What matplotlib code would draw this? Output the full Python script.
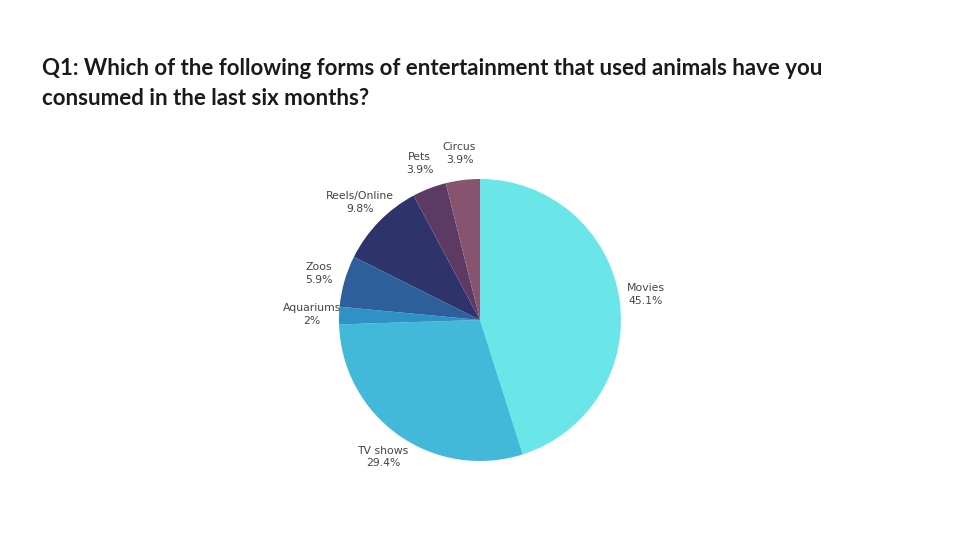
import matplotlib.pyplot as plt

# data
labels = ['Movies', 'TV shows', 'Aquariums', 'Zoos', 'Reels/Online', 'Pets', 'Circus']
pct_text = ['45.1%', '29.4%', '2%', '5.9%', '9.8%', '3.9%', '3.9%']
shares = [45.1, 29.4, 2.0, 5.9, 9.8, 3.9, 3.9]
colors = ['#6ae5e8', '#42b9d8', '#2f92c6', '#2d609b', '#2f336b', '#5c3a64', '#875470']

fig = plt.figure(figsize=(9.6, 5.4), dpi=100)
fig.patch.set_facecolor('white')

fig.text(42 / 960, 1 - 58 / 540,
         'Q1: Which of the following forms of entertainment that used animals have you\n'
         'consumed in the last six months?',
         fontsize=16, fontweight='bold', family='Lato', color='#1a1a1a',
         va='top', ha='left', linespacing=1.52)

ax = fig.add_axes([339 / 960, 79 / 540, 282 / 960, 282 / 540])
wedges, texts = ax.pie(shares, colors=colors, startangle=90, counterclock=False,
                       labels=[f'{l}\n{p}' for l, p in zip(labels, pct_text)],
                       labeldistance=1.19,
                       textprops=dict(fontsize=7.8, color='#444444', family='DejaVu Sans'),
                       wedgeprops=dict(linewidth=0))
for t in texts:
    t.set_horizontalalignment('center')
    t.set_verticalalignment('center')
    t.set_linespacing(1.35)
ax.set_xlim(-1, 1)
ax.set_ylim(-1, 1)
ax.set_aspect('equal')
ax.axis('off')

fig.savefig('out.png', dpi=100)
